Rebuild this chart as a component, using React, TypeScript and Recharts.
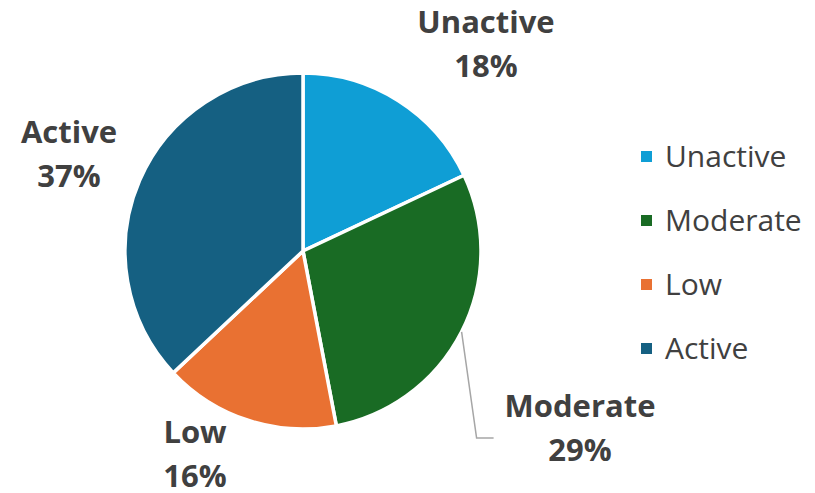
import { PieChart, Pie, Cell, Legend } from "recharts";

// 活動レベル別の割合
const categories = ["Unactive", "Moderate", "Low", "Active"];
const shares = [18, 29, 16, 37];

const colors = ["#0f9ed5", "#196b24", "#e97132", "#156082"];
const textColor = "#404040";
const fontFamily = "'Open Sans', 'Noto Sans', sans-serif";

const data = categories.map((name, i) => ({ name, value: shares[i] }));

// ラベル位置（円の中心からのオフセット）
const labelOffsets: Record<string, { dx: number; dy: number }> = {
  Unactive: { dx: 183, dy: -203 },
  Moderate: { dx: 277, dy: 181 },
  Low: { dx: -108, dy: 207 },
  Active: { dx: -234, dy: -93 },
};

const RADIAN = Math.PI / 180;

const renderLabel = (props: any) => {
  const { cx, cy, midAngle, outerRadius, name, percent } = props;
  const off = labelOffsets[name];
  const x = cx + off.dx;
  const y = cy + off.dy;
  const pct = `${Math.round(percent * 100)}%`;
  let leader = null;
  if (name === "Moderate") {
    // 引き出し線
    const sx = cx + outerRadius * Math.cos(-midAngle * RADIAN);
    const sy = cy + outerRadius * Math.sin(-midAngle * RADIAN);
    const ex = sx + 15;
    const ey = y + 6;
    leader = (
      <path
        d={`M${sx},${sy} L${ex},${ey} L${ex + 17},${ey}`}
        stroke="#a6a6a6"
        strokeWidth={1.5}
        fill="none"
      />
    );
  }
  return (
    <g>
      {leader}
      <text
        x={x}
        y={y}
        textAnchor="middle"
        fill={textColor}
        fontFamily={fontFamily}
        fontWeight={700}
        fontSize={31}
      >
        <tspan x={x} dy={-15}>
          {name}
        </tspan>
        <tspan x={x} dy={44}>
          {pct}
        </tspan>
      </text>
    </g>
  );
};

// 凡例はカテゴリ順で表示
const renderLegend = () => (
  <div style={{ fontFamily }}>
    {categories.map((name, i) => (
      <div
        key={name}
        style={{
          display: "flex",
          alignItems: "center",
          height: 64,
          fontSize: 30,
          lineHeight: 1,
          color: textColor,
        }}
      >
        <span
          style={{
            width: 11,
            height: 11,
            background: colors[i],
            marginRight: 13,
            display: "inline-block",
            flexShrink: 0,
          }}
        />
        {name}
      </div>
    ))}
  </div>
);

export default function App() {
  return (
    <div style={{ position: "absolute", left: 0, top: 0, background: "#fff" }}>
      <PieChart width={815} height={493} margin={{ top: 0, right: 0, bottom: 0, left: 0 }}>
        <Pie
          data={data}
          dataKey="value"
          nameKey="name"
          cx={303}
          cy={251}
          outerRadius={178}
          startAngle={90}
          endAngle={-270}
          stroke="#fff"
          strokeWidth={3.5}
          label={renderLabel}
          labelLine={false}
          isAnimationActive={false}
        >
          {data.map((d, i) => (
            <Cell key={d.name} fill={colors[i]} />
          ))}
        </Pie>
        <Legend
          layout="vertical"
          content={renderLegend}
          wrapperStyle={{ position: "absolute", left: 641, top: 124, width: 174 }}
        />
      </PieChart>
    </div>
  );
}
